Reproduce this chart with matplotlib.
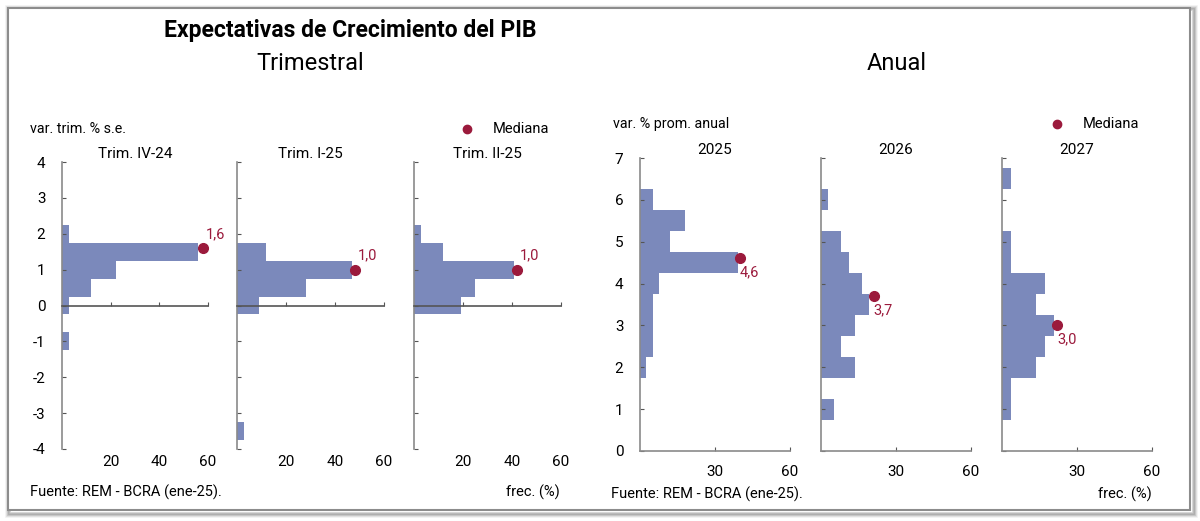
import matplotlib
matplotlib.use("Agg")
import matplotlib.pyplot as plt
from matplotlib.patches import Rectangle
from matplotlib.lines import Line2D

plt.rcParams["font.family"] = ["Roboto", "DejaVu Sans"]
plt.rcParams["axes.unicode_minus"] = False

# --- data (bins of 0.5 pp, frequencies in %) ---
quarter_titles = ["Trim. IV-24", "Trim. I-25", "Trim. II-25"]
quarter_bins = [
    [-1.0, 0.0, 0.5, 1.0, 1.5, 2.0],
    [-3.5, 0.0, 0.5, 1.0, 1.5],
    [0.0, 0.5, 1.0, 1.5, 2.0],
]
quarter_freq = [
    [3, 3, 12, 22, 56, 3],
    [3, 9, 28, 47, 12],
    [19, 25, 41, 12, 3],
]
quarter_median = [1.6, 1.0, 1.0]
quarter_median_x = [58, 48, 42]

year_titles = ["2025", "2026", "2027"]
year_bins = [
    [2.0, 2.5, 3.0, 3.5, 4.0, 4.5, 5.0, 5.5, 6.0],
    [1.0, 2.0, 2.5, 3.0, 3.5, 4.0, 4.5, 5.0, 6.0],
    [1.0, 1.5, 2.0, 2.5, 3.0, 3.5, 4.0, 4.5, 5.0, 6.5],
]
year_freq = [
    [2.5, 5, 5, 5, 7.5, 39, 12, 18, 5],
    [5.3, 13.7, 8.1, 13.7, 19.3, 16.4, 11, 8.1, 2.7],
    [3.6, 3.6, 13.7, 17.3, 20.8, 13.7, 17.3, 3.6, 3.6, 3.6],
]
year_median = [4.6, 3.7, 3.0]
year_median_x = [40, 21, 22]

BAR = "#7b89bb"
MED = "#9b1a3c"
W, H = 1200, 521


def px_rect(x0, y0, x1, y1):
    return [x0 / W, 1 - y1 / H, (x1 - x0) / W, (y1 - y0) / H]


fig = plt.figure(figsize=(W / 100, H / 100), dpi=100)

# frame with soft shadow (kept behind the axes)
for i, a in enumerate([0.05, 0.08, 0.12, 0.18]):
    d = 4 - i
    fig.add_artist(Rectangle(((8 - d + 2) / W, 1 - (510 + d + 2) / H),
                             (1182 + 2 * d) / W, (502 + 2 * d) / H,
                             transform=fig.transFigure, fill=False,
                             edgecolor="black", alpha=a, lw=2, zorder=-20))
fig.add_artist(Rectangle((8 / W, 1 - 510 / H), 1182 / W, 502 / H,
                         transform=fig.transFigure, facecolor="white",
                         edgecolor="#8c8c8c", lw=1.5, zorder=-10))


def style_axis(ax, ylim, yticks, show_ylabels, xticks, zero_line):
    ax.set_ylim(*ylim)
    ax.set_xlim(0, 60)
    for s in ["top", "right"]:
        ax.spines[s].set_visible(False)
    ax.spines["left"].set_color("#8a8a8a")
    ax.spines["left"].set_linewidth(1.2)
    ax.spines["bottom"].set_color("#555555" if zero_line else "#8a8a8a")
    ax.spines["bottom"].set_linewidth(1.2)
    if zero_line:
        ax.spines["bottom"].set_position(("data", 0))
    ax.set_yticks(yticks)
    ax.set_xticks(xticks)
    ax.tick_params(axis="y", direction="in", length=3, color="#555555",
                   labelsize=11, pad=12, labelleft=show_ylabels)
    ax.tick_params(axis="x", direction="in", length=3, color="#555555",
                   labelbottom=False)
    ax.patch.set_alpha(0)


def xlabels(ax, ticks, ypix):
    for t in ticks:
        x_fig = ax.transData.transform((t, 0))[0]
        fig.text(x_fig / W, 1 - ypix / H, str(t), ha="center", va="center",
                 fontsize=11)


# quarterly panels
left_x = [(62, 208), (237, 384), (414, 561)]
for i, (x0, x1) in enumerate(left_x):
    ax = fig.add_axes(px_rect(x0, 162, x1, 449))
    ax.barh(quarter_bins[i], quarter_freq[i], height=0.5, color=BAR, zorder=1)
    style_axis(ax, (-4, 4), range(-4, 5), i == 0, [20, 40, 60], True)
    ax.plot(quarter_median_x[i], quarter_median[i], "o", color=MED, ms=7,
            zorder=5, clip_on=False)
    ax.annotate(f"{quarter_median[i]:.1f}".replace(".", ","),
                (quarter_median_x[i], quarter_median[i]), xytext=(2, 5),
                textcoords="offset points", ha="left", va="bottom",
                color=MED, fontsize=10.5)
    ax.set_title(quarter_titles[i], fontsize=11, pad=3)
    xlabels(ax, [20, 40, 60], 462)

# annual panels
right_x = [(640, 790), (821, 971), (1002, 1152)]
for i, (x0, x1) in enumerate(right_x):
    ax = fig.add_axes(px_rect(x0, 158, x1, 451))
    ax.barh(year_bins[i], year_freq[i], height=0.5, color=BAR, zorder=1)
    style_axis(ax, (0, 7), range(0, 8), i == 0, [30, 60], False)
    ax.plot(year_median_x[i], year_median[i], "o", color=MED, ms=7,
            zorder=5, clip_on=False)
    ax.annotate(f"{year_median[i]:.1f}".replace(".", ","),
                (year_median_x[i], year_median[i]), xytext=(0, -5),
                textcoords="offset points", ha="left", va="top",
                color=MED, fontsize=10.5)
    ax.set_title(year_titles[i], fontsize=11, pad=3)
    xlabels(ax, [30, 60], 472)

# texts
fig.text(350 / W, 1 - 31 / H, "Expectativas de Crecimiento del PIB",
         ha="center", va="center", fontsize=16.5, fontweight="bold")
fig.text(310 / W, 1 - 63 / H, "Trimestral", ha="center", va="center",
         fontsize=17)
fig.text(897 / W, 1 - 63 / H, "Anual", ha="center", va="center",
         fontsize=17)
fig.text(30 / W, 1 - 129 / H, "var. trim. % s.e.", ha="left", va="center",
         fontsize=10.3)
fig.text(613 / W, 1 - 124 / H, "var. % prom. anual", ha="left", va="center",
         fontsize=10.3)
for dx, dy in [(467, 129), (1057, 124)]:
    fig.add_artist(Line2D([dx / W], [1 - dy / H], marker="o", color=MED,
                          ms=6, transform=fig.transFigure))
    fig.text((dx + 26) / W, 1 - dy / H, "Mediana", ha="left", va="center",
             fontsize=10.5)
fig.text(30 / W, 1 - 492 / H, "Fuente: REM - BCRA (ene-25).", ha="left",
         va="center", fontsize=10.5)
fig.text(611 / W, 1 - 494 / H, "Fuente: REM - BCRA (ene-25).", ha="left",
         va="center", fontsize=10.5)
fig.text(560 / W, 1 - 492 / H, "frec. (%)", ha="right", va="center",
         fontsize=10.5)
fig.text(1152 / W, 1 - 494 / H, "frec. (%)", ha="right", va="center",
         fontsize=10.5)

fig.savefig("out.png", dpi=100)
